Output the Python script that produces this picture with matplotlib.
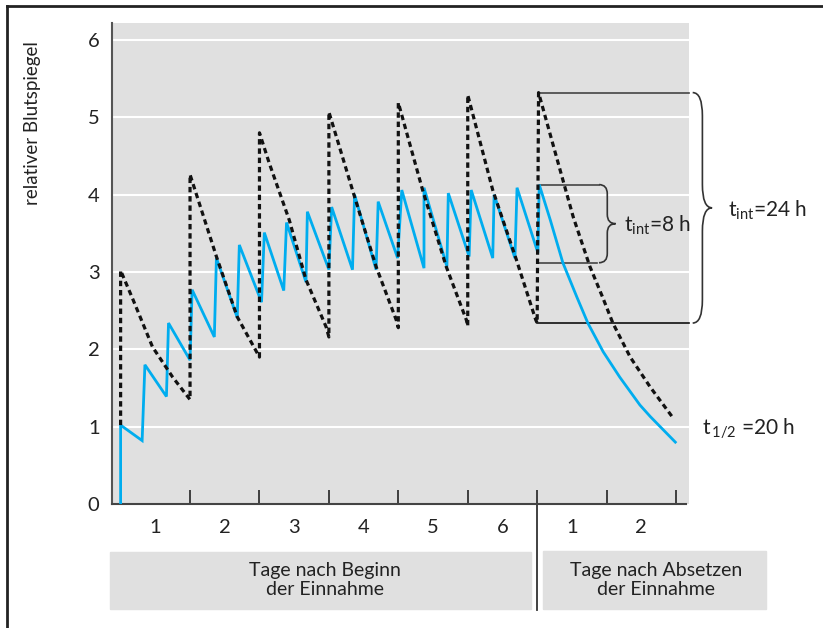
import numpy as np
import matplotlib
matplotlib.use("Agg")
import matplotlib.pyplot as plt
from matplotlib.patches import Rectangle, PathPatch
from matplotlib.path import Path
from matplotlib.lines import Line2D

plt.rcParams['font.family'] = ['Lato', 'DejaVu Sans']
plt.rcParams['mathtext.fontset'] = 'custom'
plt.rcParams['mathtext.rm'] = 'Lato'
plt.rcParams['mathtext.it'] = 'Lato:italic'

### data (x in days, y relative level)
# dosing once a day (24 h), dashed
dash_t = [0, 0, 0.18, 0.46, 0.75, 1.0, 1.0, 1.38, 1.68, 2.0, 2.0, 2.14, 2.43, 2.67, 2.96, 3.0,
          3.0, 3.34, 3.68, 3.97, 4.0, 4.0, 4.35, 4.69, 4.98, 5.0, 5.0, 5.36, 5.70, 5.98, 6.0,
          6.02, 6.33, 6.52, 6.76, 6.94, 7.09, 7.34, 7.63, 7.96]
dash_v = [1.02, 3.02, 2.64, 2.03, 1.64, 1.35, 4.26, 3.20, 2.42, 1.90, 4.80, 4.41, 3.67, 2.90, 2.29, 2.16,
          5.07, 4.06, 3.07, 2.38, 2.28, 5.19, 4.06, 3.07, 2.38, 2.30, 5.29, 4.06, 3.16, 2.38, 2.34,
          5.32, 4.32, 3.71, 3.07, 2.68, 2.34, 1.90, 1.51, 1.11]

# dosing every 8 h, blue
blue_t = [0, 0, 0.31, 0.35, 0.66, 0.69, 1.0, 1.03, 1.35, 1.38, 1.68, 1.71, 2.03, 2.07, 2.35, 2.39,
          2.67, 2.69, 3.0, 3.04, 3.34, 3.37, 3.68, 3.71, 3.99, 4.05, 4.37, 4.37, 4.70, 4.72,
          5.02, 5.05, 5.36, 5.38, 5.68, 5.71, 6.01, 6.03,
          6.19, 6.37, 6.57, 6.73, 6.95, 7.19, 7.48, 7.63, 7.99]
blue_v = [0, 1.02, 0.82, 1.80, 1.39, 2.34, 1.86, 2.77, 2.16, 3.18, 2.41, 3.35, 2.61, 3.51, 2.76, 3.64,
          2.87, 3.78, 3.03, 3.84, 3.03, 4.00, 3.03, 3.91, 3.18, 4.06, 3.05, 4.09, 3.07, 4.02,
          3.20, 4.06, 3.18, 4.00, 3.18, 4.09, 3.25, 4.13,
          3.67, 3.12, 2.68, 2.34, 1.97, 1.64, 1.28, 1.13, 0.80]

yticks = [0, 1, 2, 3, 4, 5, 6]
day_marks = [1, 2, 3, 4, 5, 6, 7, 8]
day_label_pos = [0.5, 1.5, 2.5, 3.5, 4.5, 5.5, 6.5, 7.5]
day_labels = ['1', '2', '3', '4', '5', '6', '1', '2']
stop_day = 6

# bracket levels
br8 = (4.13, 3.12)
br24 = (5.32, 2.34)

GRAY = '#e0e0e0'
BLUE = '#00adef'
W, H = 823, 628

fig = plt.figure(figsize=(8.23, 6.28), dpi=100)
ax = fig.add_axes([112 / W, 1 - 504 / H, (689 - 112) / W, (504 - 23) / H])
ax.set_facecolor(GRAY)
ax.set_xlim(-0.124, 8.187)
ax.set_ylim(0, 6.22)

for y in yticks[1:]:
    ax.axhline(y, color='white', lw=1.5, zorder=1)

ax.plot(blue_t, blue_v, color=BLUE, lw=2.0, zorder=3, solid_joinstyle='miter')
ax.plot(dash_t, dash_v, color='#111111', lw=2.3, linestyle=(0, (1.7, 1.2)), zorder=4)

for s in ['top', 'right']:
    ax.spines[s].set_visible(False)
ax.spines['left'].set_color('#555555')
ax.spines['bottom'].set_color('#444444')
ax.spines['left'].set_linewidth(1.5)
ax.spines['bottom'].set_linewidth(1.5)
ax.spines['bottom'].set_bounds(-0.124, 8.14)

ax.set_yticks(yticks)
ax.tick_params(axis='y', length=0, pad=9, labelsize=14.5, labelcolor='#222222')
ax.set_xticks(day_label_pos)
ax.set_xticklabels(day_labels)
ax.tick_params(axis='x', length=0, pad=11, labelsize=14.5, labelcolor='#222222')
ax.set_xticks(day_marks, minor=True)
ax.tick_params(axis='x', which='minor', direction='in', length=10, width=1.3, color='#333333')

# long separator at stop of intake
ax.plot([stop_day, stop_day], [0, -1.37], color='#333333', lw=1.3, clip_on=False)

# bracket lines
ax.plot([6.04, 6.89], [br8[0]] * 2, color='#444444', lw=1.2, zorder=2)
ax.plot([6.0, 6.86], [br8[1]] * 2, color='#444444', lw=1.2, zorder=2)
ax.plot([6.04, 8.19], [br24[0]] * 2, color='#444444', lw=1.2, zorder=2, clip_on=False)
ax.plot([6.0, 8.19], [br24[1]] * 2, color='#111111', lw=1.2, zorder=2, clip_on=False)


def brace(x0, x1, ytop, ybot, hook):
    xm = (x0 + x1) / 2
    ymid = (ytop + ybot) / 2
    verts = [(x0, ytop), (xm, ytop), (xm, ytop - hook), (xm, ymid + hook),
             (xm, ymid), (x1, ymid),
             (x1, ymid), (xm, ymid), (xm, ymid - hook), (xm, ybot + hook),
             (xm, ybot), (x0, ybot)]
    codes = [Path.MOVETO, Path.CURVE3, Path.CURVE3, Path.LINETO,
             Path.CURVE3, Path.CURVE3,
             Path.MOVETO, Path.CURVE3, Path.CURVE3, Path.LINETO,
             Path.CURVE3, Path.CURVE3]
    p = PathPatch(Path(verts, codes), fill=False, edgecolor='#333333', lw=1.2, clip_on=False)
    ax.add_patch(p)


brace(6.89, 7.13, br8[0], br8[1], 0.12)
brace(8.24, 8.52, br24[0], br24[1], 0.3)

ax.text(7.25, 3.52, r't$_{\mathrm{int}}$=8 h', fontsize=15, color='#222222', va='baseline')
ax.text(8.75, 3.72, r't$_{\mathrm{int}}$=24 h', fontsize=15, color='#222222', va='baseline')
ax.text(8.37, 0.89, r't$_{\,\mathrm{1/2}}$ =20 h', fontsize=15, color='#222222', va='baseline')

fig.text(33 / W, 1 - 123 / H, 'relativer Blutspiegel', rotation=90, ha='center', va='center',
         fontsize=13.5, color='#222222')

# boxes below the axis
fig.add_artist(Rectangle((110 / W, 1 - 609 / H), (531 - 110) / W, (609 - 552) / H,
                         transform=fig.transFigure, color=GRAY, zorder=0))
fig.add_artist(Rectangle((543 / W, 1 - 609 / H), (766 - 543) / W, (609 - 551) / H,
                         transform=fig.transFigure, color=GRAY, zorder=0))
fig.text(325 / W, 1 - 580 / H, 'Tage nach Beginn\nder Einnahme', ha='center', va='center',
         fontsize=14, color='#222222', linespacing=1.1)
fig.text(656 / W, 1 - 580 / H, 'Tage nach Absetzen\nder Einnahme', ha='center', va='center',
         fontsize=14, color='#222222', linespacing=1.1)

# outer frame
fig.add_artist(Line2D([7 / W, 1], [1 - 6 / H, 1 - 6 / H], transform=fig.transFigure,
                      color='#222222', lw=2))
fig.add_artist(Line2D([7 / W, 7 / W], [0, 1 - 6 / H], transform=fig.transFigure,
                      color='#222222', lw=2))

fig.savefig('out.png', dpi=100)
